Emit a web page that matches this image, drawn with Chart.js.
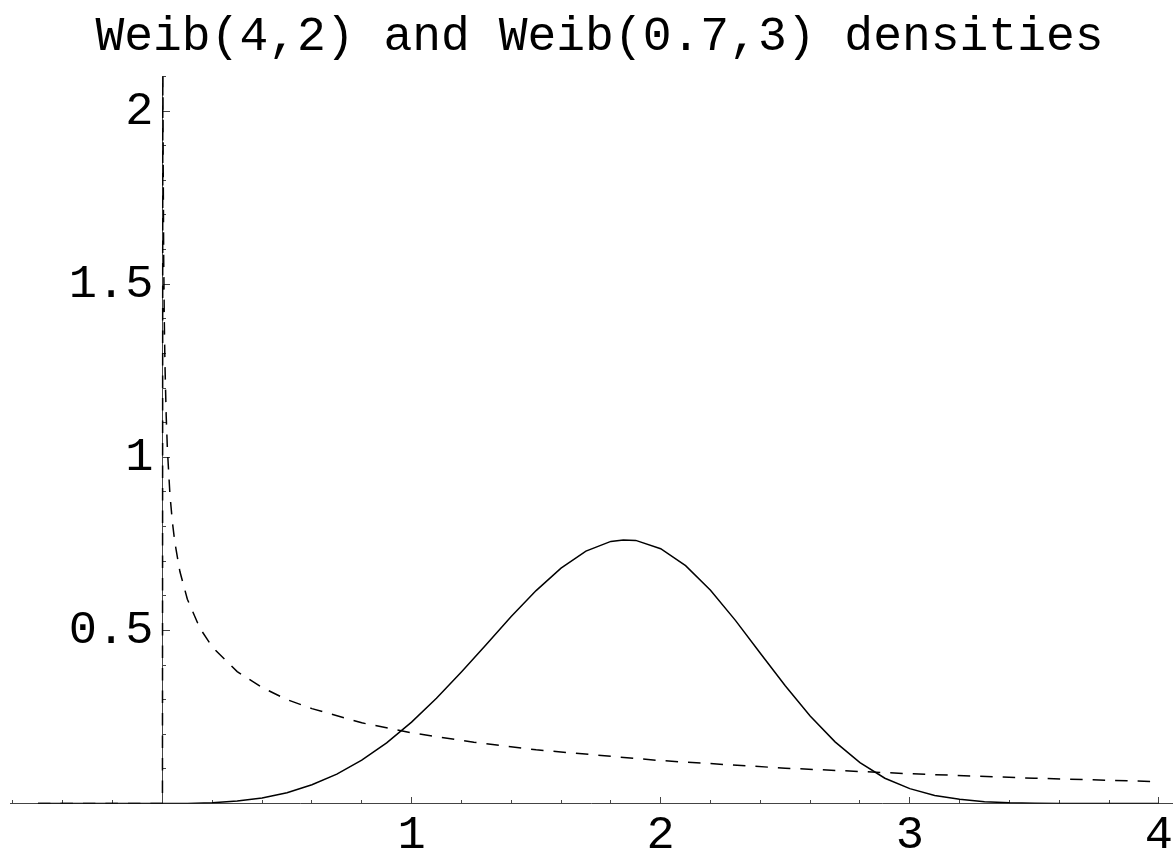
<!DOCTYPE html>
<html>
<head>
<meta charset="utf-8">
<script src="https://cdn.jsdelivr.net/npm/chart.js@4/dist/chart.umd.min.js"></script>
<style>
  html, body { margin: 0; padding: 0; background: #ffffff; }
  canvas { display: block; }
</style>
</head>
<body>
<canvas id="c" width="1173" height="854"></canvas>
<script>
// ---- data ----
const chartTitle = "Weib(4,2) and Weib(0.7,3) densities";

// Weib(4,2) density (solid)
const solidX = [-0.5, 0, 0.1, 0.2, 0.3, 0.4, 0.5, 0.6, 0.7, 0.8, 0.9, 1.0, 1.1, 1.2, 1.3, 1.4, 1.5, 1.6, 1.7, 1.8, 1.85, 1.9, 2.0, 2.1, 2.2, 2.3, 2.4, 2.5, 2.6, 2.7, 2.8, 2.9, 3.0, 3.1, 3.2, 3.3, 3.4, 3.5, 3.6, 3.8, 4.0];
const solidY = [0, 0, 0.0003, 0.002, 0.007, 0.016, 0.031, 0.054, 0.085, 0.125, 0.175, 0.235, 0.304, 0.380, 0.459, 0.540, 0.615, 0.680, 0.729, 0.757, 0.761, 0.760, 0.736, 0.687, 0.616, 0.529, 0.434, 0.340, 0.253, 0.178, 0.118, 0.073, 0.043, 0.023, 0.012, 0.005, 0.002, 0.001, 0.0003, 0, 0];

// Weib(0.7,3) density (dashed)
const dashX = [-0.5, 0, 0.0015, 0.002, 0.003, 0.005, 0.0075, 0.01, 0.015, 0.02, 0.03, 0.04, 0.05, 0.07, 0.1, 0.15, 0.2, 0.3, 0.4, 0.5, 0.6, 0.8, 1.0, 1.25, 1.5, 2.0, 2.5, 3.0, 3.5, 4.0];
const dashY = [0, 0, 2.27, 2.08, 1.84, 1.57, 1.39, 1.27, 1.12, 1.02, 0.893, 0.812, 0.753, 0.670, 0.590, 0.507, 0.452, 0.381, 0.335, 0.300, 0.274, 0.233, 0.204, 0.177, 0.155, 0.124, 0.102, 0.086, 0.073, 0.063];

// axis ranges and tick labels
const xRange = [-0.612, 4.053];
const yRange = [0, 2.1];
const xTickLabels = ["1", "2", "3", "4"];
const yTickLabels = ["0.5", "1", "1.5", "2"];

// ---- build ----
const toPts = (xs, ys) => xs.map((x, i) => ({ x: x, y: ys[i] }));
const FONT = "'Liberation Mono', 'Courier New', monospace";
const AXIS_COLOR = '#444444';

// place tick labels next to the axes that cross at the origin
const labelPlacement = {
  id: 'labelPlacement',
  beforeDraw(chart) {
    const x0 = chart.scales.x.getPixelForValue(0);
    const y0 = chart.scales.y.getPixelForValue(0);
    chart.scales.y.getLabelItems().forEach(it => {
      it.options.translation[0] = x0 - 9;
      it.options.textAlign = 'right';
    });
    chart.scales.x.getLabelItems().forEach(it => {
      it.options.translation[1] = y0 + 4;
    });
    if (chart.titleBlock && !chart.titleBlock._shifted) {
      chart.titleBlock.left += 16;
      chart.titleBlock._shifted = true;
    }
  }
};

const whiteBg = {
  id: 'whiteBg',
  beforeDraw(chart) {
    const ctx = chart.ctx;
    ctx.save();
    ctx.fillStyle = '#ffffff';
    ctx.fillRect(0, 0, chart.width, chart.height);
    ctx.restore();
  }
};

new Chart(document.getElementById('c'), {
  type: 'line',
  data: {
    datasets: [
      {
        label: 'Weib(4,2)',
        data: toPts(solidX, solidY),
        borderColor: '#000000',
        borderWidth: 1.5,
        pointRadius: 0,
        tension: 0,
        fill: false
      },
      {
        label: 'Weib(0.7,3)',
        data: toPts(dashX, dashY),
        borderColor: '#000000',
        borderWidth: 1.5,
        borderDash: [12.5, 10],
        pointRadius: 0,
        tension: 0,
        fill: false
      }
    ]
  },
  options: {
    responsive: false,
    animation: false,
    devicePixelRatio: 1,
    layout: { padding: { left: 10, right: 0, top: 0, bottom: 50.5 } },
    plugins: {
      legend: { display: false },
      tooltip: { enabled: false },
      title: {
        display: true,
        text: chartTitle,
        color: '#000000',
        font: { family: FONT, size: 48, weight: 'normal' },
        padding: { top: 8.7, bottom: 10.15 }
      }
    },
    scales: {
      x: {
        type: 'linear', axis: 'x', position: { y: 0 },
        min: xRange[0], max: xRange[1],
        grid: { drawOnChartArea: false, drawTicks: true, tickLength: -7, tickColor: AXIS_COLOR, tickWidth: 1 },
        border: { display: true, color: AXIS_COLOR, width: 1 },
        ticks: {
          stepSize: 1, includeBounds: false, autoSkip: false, maxRotation: 0, maxTicksLimit: 1000,
          padding: 0, color: '#000000', font: { family: FONT, size: 47 },
          callback: (v) => { const s = String(v); return xTickLabels.includes(s) ? s : ''; }
        },
        afterFit: (s) => { s.height = 0; }
      },
      x2: {
        type: 'linear', axis: 'x', position: { y: 0 },
        min: xRange[0], max: xRange[1],
        grid: { drawOnChartArea: false, drawTicks: true, tickLength: -4, tickColor: AXIS_COLOR, tickWidth: 1 },
        border: { display: false },
        ticks: { display: false, stepSize: 0.2, includeBounds: false, autoSkip: false, maxTicksLimit: 1000 },
        afterFit: (s) => { s.height = 0; }
      },
      y: {
        type: 'linear', axis: 'y', position: { x: 0 },
        min: yRange[0], max: yRange[1],
        grid: { drawOnChartArea: false, drawTicks: true, tickLength: -8, tickColor: AXIS_COLOR, tickWidth: 1 },
        border: { display: true, color: AXIS_COLOR, width: 1 },
        ticks: {
          stepSize: 0.5, includeBounds: false, autoSkip: false, maxTicksLimit: 1000,
          padding: 0, color: '#000000', font: { family: FONT, size: 47 },
          callback: (v) => { const s = String(Math.round(v * 10) / 10); return yTickLabels.includes(s) ? s : ''; }
        },
        afterFit: (s) => { s.width = 0; }
      },
      y2: {
        type: 'linear', axis: 'y', position: { x: 0 },
        min: yRange[0], max: yRange[1],
        grid: { drawOnChartArea: false, drawTicks: true, tickLength: -4, tickColor: AXIS_COLOR, tickWidth: 1 },
        border: { display: false },
        ticks: { display: false, stepSize: 0.1, includeBounds: false, autoSkip: false, maxTicksLimit: 1000 },
        afterFit: (s) => { s.width = 0; }
      }
    }
  },
  plugins: [whiteBg, labelPlacement]
});
</script>
</body>
</html>
